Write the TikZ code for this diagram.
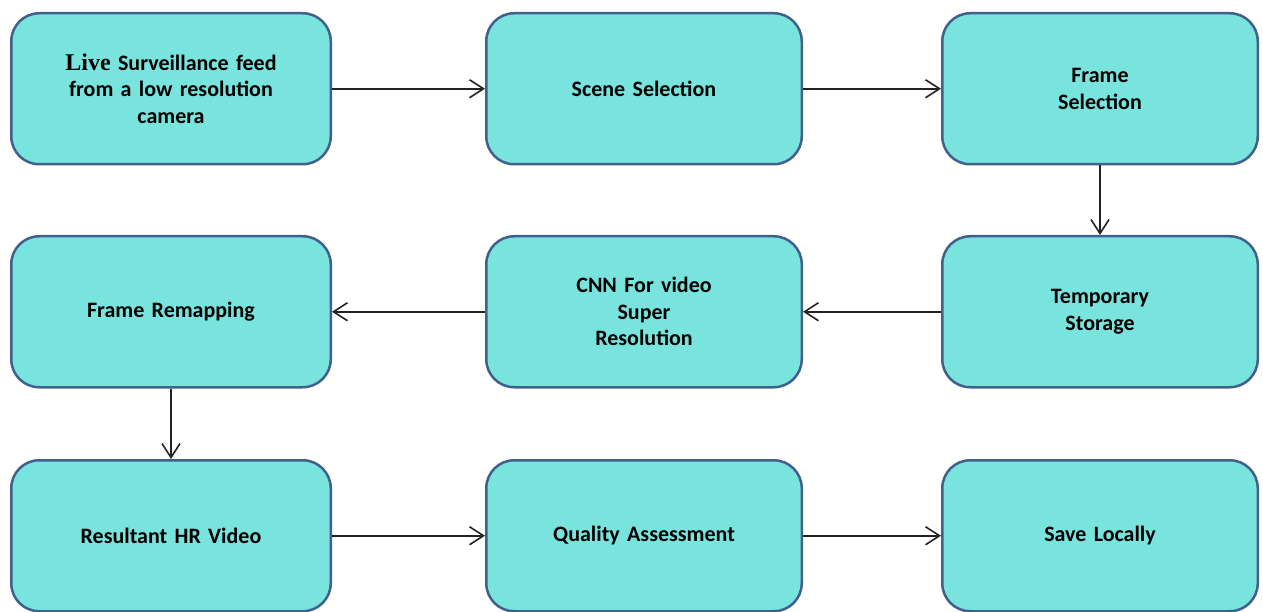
\documentclass[tikz,border=0pt]{standalone}
\usepackage{fontspec}
\setmainfont{Carlito}
\newfontfamily\livefont{Liberation Serif}
\usepackage{xcolor}
\usepackage{tikz}
\usetikzlibrary{arrows.meta, positioning}
\definecolor{boxfill}{RGB}{121,227,221}
\definecolor{boxline}{RGB}{65,96,140}
\definecolor{arrowcol}{RGB}{35,35,35}

\begin{document}
\begin{tikzpicture}[x=1pt, y=1pt,
    box/.style={rectangle, rounded corners=28pt, draw=boxline, line width=2.5pt, fill=boxfill,
        minimum width=315.5pt, minimum height=151pt, align=center, text width=270pt,
        font=\fontsize{22}{26.5}\selectfont\bfseries},
    widebox/.style={box, minimum width=319.5pt},
    arrow/.style={-{Straight Barb[length=14pt, width=18pt, line width=1.6pt]}, line width=1.6pt, draw=arrowcol}
]
\useasboundingbox (0,0) rectangle (1263,-612);

\node[widebox, anchor=north west] (live) at (10,-12) {{\livefont\fontsize{24}{26.5}\selectfont Live} Surveillance feed\\from a low resolution\\camera};
\node[box, right=153pt of live] (scene) {Scene Selection};
\node[box, right=138pt of scene] (frame) {Frame\\Selection};
\node[box, below=69.5pt of frame] (temp) {Temporary\\Storage};
\node[box, below=69.5pt of scene] (cnn) {CNN For video\\Super\\Resolution};
\node[widebox, below=69.5pt of live] (remap) {Frame Remapping};
\node[widebox, below=70.5pt of remap] (result) {Resultant HR Video};
\node[box, below=70.5pt of cnn] (quality) {Quality Assessment};
\node[box, below=70.5pt of temp] (save) {Save Locally};

\draw[arrow] (live) -- (scene);
\draw[arrow] (scene) -- (frame);
\draw[arrow] (frame) -- (temp);
\draw[arrow] (temp) -- (cnn);
\draw[arrow] (cnn) -- (remap);
\draw[arrow] (remap) -- (result);
\draw[arrow] (result) -- (quality);
\draw[arrow] (quality) -- (save);

\end{tikzpicture}
\end{document}
